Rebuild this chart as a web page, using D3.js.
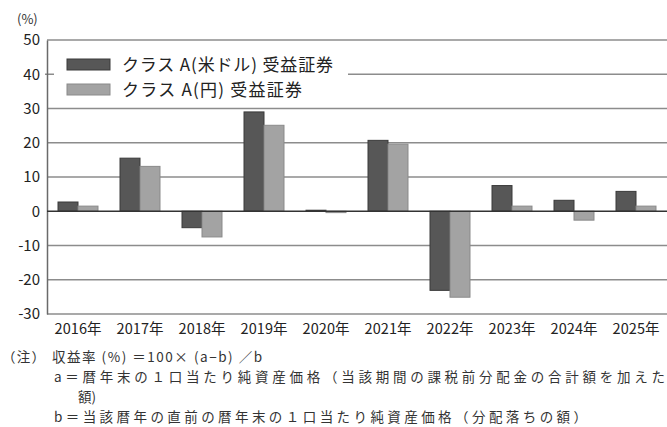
<!DOCTYPE html>
<html>
<head>
<meta charset="utf-8">
<script src="https://cdn.jsdelivr.net/npm/d3@7"></script>
<style>
  html, body { margin: 0; padding: 0; background: #fff; }
  svg { display: block; font-family: "Noto Sans CJK JP", "Noto Sans", sans-serif; }
</style>
</head>
<body>
<svg id="chart" width="667" height="427"></svg>
<script>
// 年次収益率 (%)
const years = ["2016年", "2017年", "2018年", "2019年", "2020年", "2021年", "2022年", "2023年", "2024年", "2025年"];
const seriesNames = ["クラス A(米ドル) 受益証券", "クラス A(円) 受益証券"];
const usdClass = [2.7, 15.5, -4.8, 29.0, 0.3, 20.7, -23.1, 7.5, 3.2, 5.8];
const jpyClass = [1.5, 13.1, -7.5, 25.1, -0.4, 19.6, -25.1, 1.5, -2.6, 1.5];
const yTicks = [50, 40, 30, 20, 10, 0, -10, -20, -30];
const noteHead = "（注）";
const noteLines = [
  "収益率 (%) ＝100× (a−b) ／b",
  "a＝暦年末の１口当たり純資産価格（当該期間の課税前分配金の合計額を加えた",
  "額)",
  "b＝当該暦年の直前の暦年末の１口当たり純資産価格（分配落ちの額）"
];

const seriesValues = [usdClass, jpyClass];
const fills = ["#575757", "#a3a3a3"];
const strokes = ["#3a3a3a", "#8a8a8a"];

const svg = d3.select("#chart");
const plotLeft = 47, plotRight = 667, plotTop = 40, plotBottom = 314;

const x = d3.scaleBand().domain(years).range([plotLeft, plotRight]).paddingInner(0.355).paddingOuter(0.1775);
const x1 = d3.scaleBand().domain(d3.range(seriesValues.length)).range([0, x.bandwidth()]);
const y = d3.scaleLinear().domain([-30, 50]).range([plotBottom, plotTop]);

// horizontal grid lines (the 40 line is interrupted by the legend)
const grid = svg.append("g");
yTicks.forEach(t => {
  if (t === 0) return;
  const segs = t === 40 ? [[plotLeft - 2, plotLeft + 7], [348, plotRight]] : [[plotLeft, plotRight]];
  segs.forEach(([a, b]) => {
    grid.append("line").attr("x1", a).attr("x2", b)
      .attr("y1", y(t)).attr("y2", y(t)).attr("stroke", "#8c8c8c").attr("stroke-width", 1.5);
  });
});

// y axis
const yAxis = svg.append("g").attr("transform", `translate(${plotLeft},0)`)
  .call(d3.axisLeft(y).tickValues(yTicks).tickSize(0).tickPadding(7).tickFormat(d => String(d)));
yAxis.select(".domain").attr("stroke", "#6a6a6a").attr("stroke-width", 1.5);
yAxis.selectAll("text").attr("font-size", 15).attr("fill", "#222")
  .attr("font-family", "'Noto Sans CJK JP', sans-serif");

svg.append("text").attr("x", 17).attr("y", 24).attr("font-size", 13).attr("fill", "#333").text("(%)");

// bars
years.forEach((yr, i) => {
  seriesValues.forEach((vals, s) => {
    const v = vals[i];
    svg.append("rect")
      .attr("x", x(yr) + x1(s))
      .attr("y", y(Math.max(0, v)))
      .attr("width", x1.bandwidth())
      .attr("height", Math.abs(y(v) - y(0)))
      .attr("fill", fills[s])
      .attr("stroke", strokes[s])
      .attr("stroke-width", 1);
  });
});

// zero line
svg.append("line").attr("x1", plotLeft).attr("x2", plotRight).attr("y1", y(0)).attr("y2", y(0))
  .attr("stroke", "#333").attr("stroke-width", 1.5);

// x axis labels
const xAxis = svg.append("g").attr("transform", `translate(0,${plotBottom})`)
  .call(d3.axisBottom(x).tickSize(0).tickPadding(10));
xAxis.select(".domain").remove();
xAxis.selectAll("text").attr("font-size", 14.5).attr("fill", "#222")
  .attr("font-family", "'Noto Sans CJK JP', sans-serif")
  .attr("textLength", 47).attr("lengthAdjust", "spacing");

// legend
const legendWidths = [211, 180];
const legend = svg.append("g");
seriesNames.forEach((name, s) => {
  const ly = 59 + s * 25;
  legend.append("rect").attr("x", 67).attr("y", ly).attr("width", 43).attr("height", 11)
    .attr("fill", fills[s]).attr("stroke", strokes[s]);
  legend.append("text").attr("x", 122).attr("y", ly + 6).attr("dy", "0.35em")
    .attr("font-size", 17).attr("fill", "#222")
    .attr("textLength", legendWidths[s]).attr("lengthAdjust", "spacing").text(name);
});

// notes
const notes = svg.append("g").attr("font-size", 13.5).attr("fill", "#333");
notes.append("text").attr("x", 2).attr("y", 357).attr("dy", "0.35em")
  .attr("textLength", 43).attr("lengthAdjust", "spacing").text(noteHead);
const noteX = [52, 54, 78, 54];
const noteY = [357, 377, 397, 417];
const noteW = [210, 611, null, 533];
noteLines.forEach((t, i) => {
  const tx = notes.append("text").attr("x", noteX[i]).attr("y", noteY[i]).attr("dy", "0.35em").text(t);
  if (noteW[i]) tx.attr("textLength", noteW[i]).attr("lengthAdjust", "spacing");
});
</script>
</body>
</html>
